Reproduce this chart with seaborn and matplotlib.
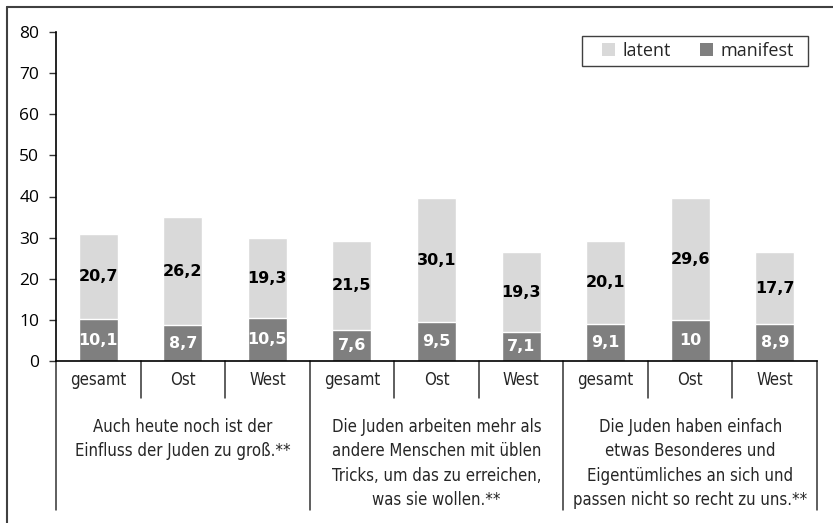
import matplotlib
matplotlib.use("Agg")
import matplotlib.pyplot as plt
from matplotlib import font_manager
from matplotlib.lines import Line2D
from matplotlib.patches import Patch, Rectangle
import seaborn as sns
import pandas as pd
import numpy as np

# ---- data ----
sub_labels = ["gesamt", "Ost", "West", "gesamt", "Ost", "West", "gesamt", "Ost", "West"]
group_labels = [
    "Auch heute noch ist der\nEinfluss der Juden zu groß.**",
    "Die Juden arbeiten mehr als\nandere Menschen mit üblen\nTricks, um das zu erreichen,\nwas sie wollen.**",
    "Die Juden haben einfach\netwas Besonderes und\nEigentümliches an sich und\npassen nicht so recht zu uns.**",
]
manifest = [10.1, 8.7, 10.5, 7.6, 9.5, 7.1, 9.1, 10, 8.9]
latent = [20.7, 26.2, 19.3, 21.5, 30.1, 19.3, 20.1, 29.6, 17.7]
yticks = [0, 10, 20, 30, 40, 50, 60, 70, 80]

# ---- fonts ----
sns.set_style("white")
names = {f.name for f in font_manager.fontManager.ttflist}
cond_family = None
cond_stretch = "normal"
for f in font_manager.fontManager.ttflist:
    if f.stretch in ("condensed", "semi-condensed") or (isinstance(f.stretch, int) and f.stretch < 500):
        cond_family = f.name
        cond_stretch = "condensed"
        break
if "Liberation Sans Narrow" in names:
    cond_family = "Liberation Sans Narrow"
    cond_stretch = "normal"
if cond_family is None:
    cond_family = "DejaVu Sans"
    cond_stretch = "normal"
plt.rcParams["font.family"] = ["Open Sans", "DejaVu Sans"]

LATENT = "#d9d9d9"
MANIFEST = "#7f7f7f"

keys = [f"k{i}" for i in range(len(sub_labels))]
df = pd.DataFrame({
    "key": keys,
    "manifest": manifest,
    "latent": latent,
})
df["total"] = df["manifest"] + df["latent"]

fig = plt.figure(figsize=(8.33, 5.23), dpi=100)
ax = fig.add_axes([56 / 833, 1 - 361 / 523, (817 - 56) / 833, (361 - 32) / 523])

sns.barplot(data=df, x="key", y="total", order=keys, color=LATENT, width=0.46,
            ax=ax, saturation=1, errorbar=None)
sns.barplot(data=df, x="key", y="manifest", order=keys, color=MANIFEST, width=0.46,
            ax=ax, saturation=1, errorbar=None)

def fmt(v):
    s = f"{v:.1f}".replace(".", ",")
    if s.endswith(",0"):
        s = s[:-2]
    return s

for i, (m, l) in enumerate(zip(manifest, latent)):
    ax.text(i, m / 2, fmt(m), ha="center", va="center", color="white",
            fontsize=11.5, fontweight="bold", family="DejaVu Sans")
    ax.text(i, m + l / 2, fmt(l), ha="center", va="center", color="black",
            fontsize=11.5, fontweight="bold", family="DejaVu Sans")

ax.set_xlim(-0.5, len(keys) - 0.5)
ax.set_ylim(0, 80)
ax.set_yticks(yticks)
ax.set_yticklabels([str(t) for t in yticks], fontsize=12.5)
ax.set_xticks([])
ax.set_xlabel("")
ax.set_ylabel("")
for s in ("top", "right"):
    ax.spines[s].set_visible(False)
ax.spines["left"].set_color("black")
ax.spines["bottom"].set_color("black")
ax.spines["left"].set_linewidth(1.2)
ax.spines["bottom"].set_linewidth(1.2)
ax.tick_params(axis="y", left=True, length=5, width=1, color="#333333", pad=7, labelcolor="black")

trans = ax.get_xaxis_transform()
axh = 361 - 32
y_sub = (361 - 398) / axh
y_grp = (361 - 510) / axh
for b in np.arange(-0.5, len(keys), 1.0):
    is_group = int(round(b + 0.5)) % 3 == 0
    ax.plot([b, b], [0, y_grp if is_group else y_sub], transform=trans,
            color="#333333", lw=1.1, clip_on=False)

for i, lab in enumerate(sub_labels):
    ax.text(i, (361 - 380) / axh, lab, transform=trans, ha="center", va="center",
            fontsize=12, family=cond_family, fontstretch=cond_stretch)

for g, lab in enumerate(group_labels):
    ax.text(3 * g + 1, (361 - 418) / axh, lab, transform=trans, ha="center", va="top",
            fontsize=12, family=cond_family, fontstretch=cond_stretch, linespacing=1.45)

# legend: frame drawn separately, entries centred inside
fig.add_artist(Rectangle((582 / 833, 1 - 66 / 523), (808 - 582) / 833, 30 / 523,
                         transform=fig.transFigure, facecolor="white",
                         edgecolor="#404040", lw=1, zorder=5))
handles = [Patch(facecolor=LATENT, edgecolor="none"), Patch(facecolor=MANIFEST, edgecolor="none")]
leg = fig.legend(handles, ["latent", "manifest"], loc="center",
                 bbox_to_anchor=(698 / 833, 1 - 51 / 523), ncol=2, frameon=False,
                 fontsize=13, handlelength=0.75, handleheight=0.75,
                 handletextpad=0.4, columnspacing=1.6, borderaxespad=0, borderpad=0)
leg.set_zorder(6)

fig.add_artist(Line2D([7 / 833, 1], [1 - 7 / 523, 1 - 7 / 523], transform=fig.transFigure,
                      color="#404040", lw=1.5))
fig.add_artist(Line2D([7 / 833, 7 / 833], [0, 1 - 7 / 523], transform=fig.transFigure,
                      color="#404040", lw=1.5))

fig.savefig("out.png", dpi=100)
